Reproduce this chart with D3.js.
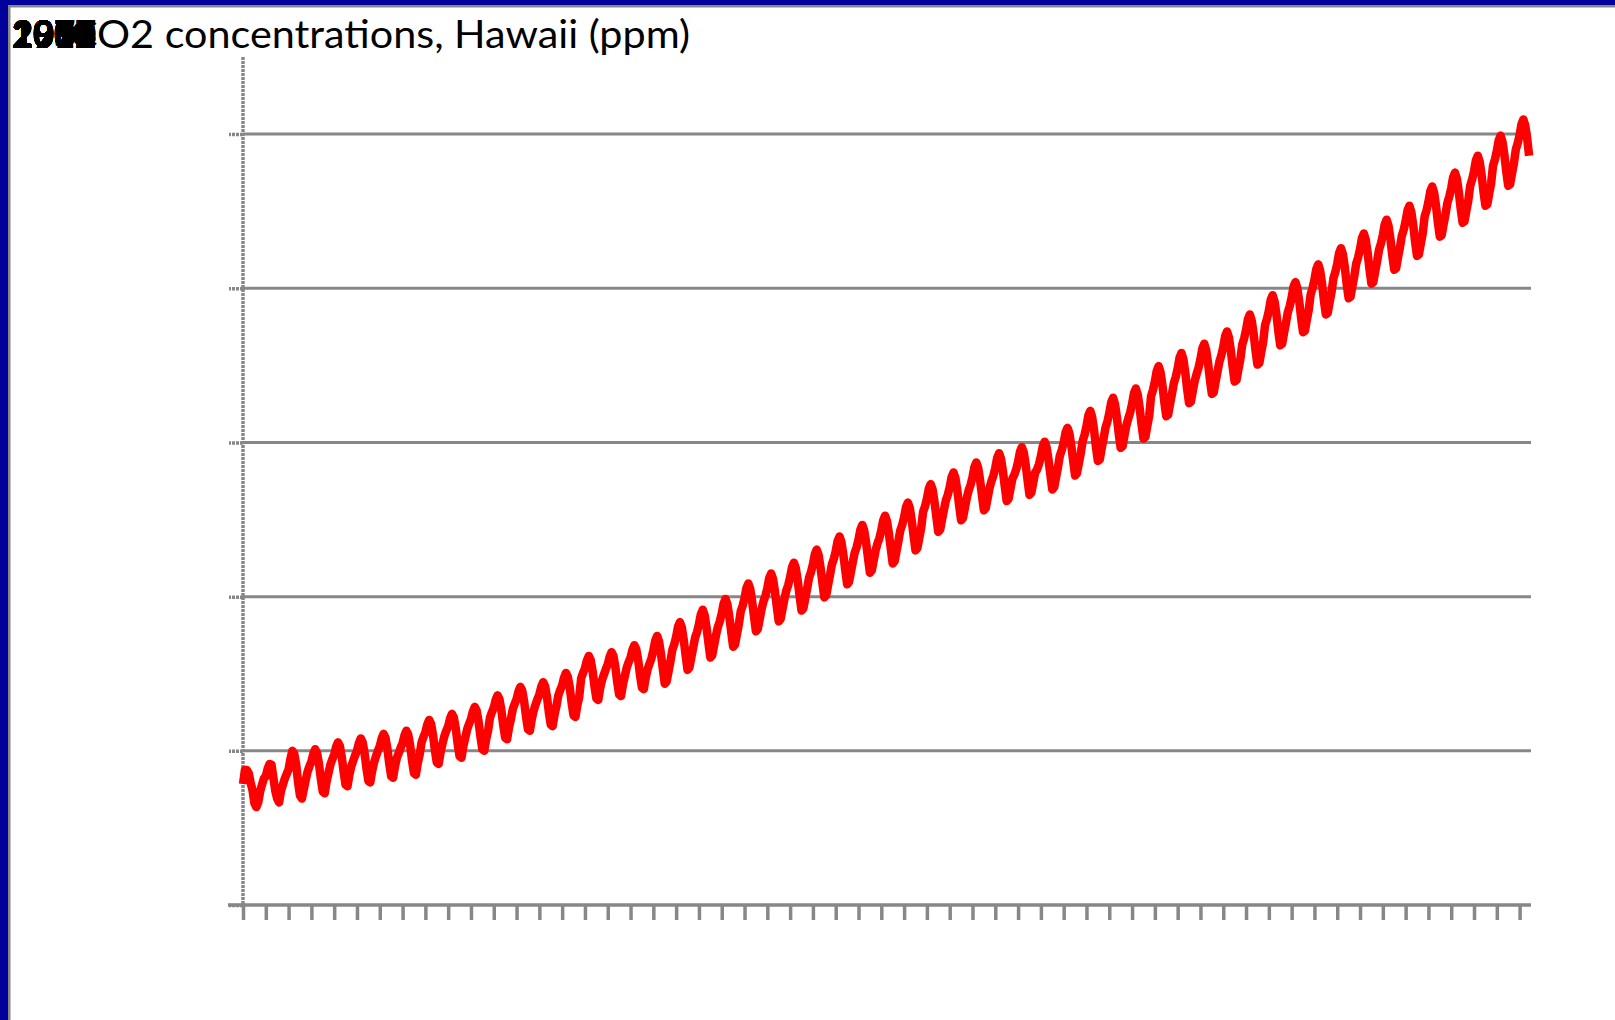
<!DOCTYPE html>
<html><head><meta charset="utf-8">
<script src="https://cdn.jsdelivr.net/npm/d3@7"></script>
<style>html,body{margin:0;padding:0;background:#fff;overflow:hidden}svg{display:block}</style>
</head><body>
<svg id="chart" width="1615" height="1020"></svg>
<script>
const title = "CO2 concentrations, Hawaii (ppm)";
const yearLabels = [1958,1959,1960,1961,1962,1963,1964,1965,1966,1967,1968,1969,1970,1971,1972,1973,1974,1975,1976,1977,1978,1979,1980,1981,1982,1983,1984,1985,1986,1987,1988,1989,1990,1991,1992,1993,1994,1995,1996,1997,1998,1999,2000,2001,2002,2003,2004,2005,2006,2007,2008,2009,2010,2011,2012,2013,2014];
const yTicks = [300,320,340,360,380,400];
// Monthly CO2 (ppm), March 1958 - August 2014
const co2 = [
315.7,317.5,317.5,317.1,315.9,314.9,313.2,312.7,313.3,314.7,
315.6,316.4,316.7,317.7,318.3,318.2,316.5,314.8,313.8,313.3,314.8,315.6,
316.4,317.0,317.6,319.0,320.0,319.6,318.2,315.9,314.2,313.8,315.0,316.2,
317.3,318.0,318.6,319.6,320.2,319.7,318.3,316.3,314.7,314.5,316.0,317.1,
318.2,318.9,319.5,320.5,321.1,320.6,319.2,317.2,315.6,315.4,316.9,318.0,
318.7,319.4,320.0,321.0,321.6,321.1,319.7,317.7,316.1,315.9,317.4,318.5,
319.3,320.0,320.6,321.6,322.2,321.7,320.3,318.3,316.7,316.5,318.0,319.1,
319.7,320.4,321.0,322.0,322.6,322.1,320.7,318.7,317.1,316.9,318.4,319.5,
321.1,321.8,322.4,323.4,324.0,323.5,322.1,320.1,318.5,318.3,319.8,320.9,
321.9,322.6,323.2,324.2,324.8,324.3,322.9,320.9,319.3,319.1,320.6,321.7,
322.8,323.5,324.1,325.1,325.7,325.2,323.8,321.8,320.2,320.0,321.5,322.6,
324.3,325.0,325.6,326.6,327.2,326.7,325.3,323.3,321.7,321.5,323.0,324.1,
325.4,326.1,326.7,327.7,328.3,327.8,326.4,324.4,322.8,322.6,324.1,325.2,
326.0,326.7,327.3,328.3,328.9,328.4,327.0,325.0,323.4,323.2,324.7,325.8,
327.2,327.9,328.5,329.5,330.1,329.6,328.2,326.2,324.6,324.4,325.9,327.0,
329.4,330.1,330.7,331.7,332.3,331.8,330.4,328.4,326.8,326.6,328.1,329.2,
329.9,330.6,331.2,332.2,332.8,332.3,330.9,328.9,327.3,327.1,328.6,329.7,
330.8,331.5,332.1,333.1,333.7,333.2,331.8,329.8,328.2,328.0,329.5,330.6,
331.3,332.0,333.0,334.3,334.9,334.2,332.6,330.6,328.7,329.0,330.3,331.6,
333.1,333.8,334.8,336.1,336.7,336.0,334.4,332.4,330.5,330.8,332.1,333.4,
334.7,335.4,336.4,337.7,338.3,337.6,336.0,334.0,332.1,332.4,333.7,335.0,
336.1,336.8,337.8,339.1,339.7,339.0,337.4,335.4,333.5,333.8,335.1,336.4,
338.1,338.8,339.8,341.1,341.7,341.0,339.4,337.4,335.5,335.8,337.1,338.4,
339.4,340.1,341.1,342.4,343.0,342.3,340.7,338.7,336.8,337.1,338.4,339.7,
340.8,341.5,342.5,343.8,344.4,343.7,342.1,340.1,338.2,338.5,339.8,341.1,
342.5,343.2,344.2,345.5,346.1,345.4,343.8,341.8,339.9,340.2,341.5,342.8,
344.2,344.9,345.9,347.2,347.8,347.1,345.5,343.5,341.6,341.9,343.2,344.5,
345.7,346.4,347.4,348.7,349.3,348.6,347.0,345.0,343.1,343.4,344.7,346.0,
346.9,347.6,348.6,349.9,350.5,349.8,348.2,346.2,344.3,344.6,345.9,347.2,
348.6,349.3,350.3,351.6,352.2,351.5,349.9,347.9,346.0,346.3,347.6,348.9,
351.0,351.7,352.7,354.0,354.6,353.9,352.3,350.3,348.4,348.7,350.0,351.3,
352.5,353.2,354.2,355.5,356.1,355.4,353.8,351.8,349.9,350.2,351.5,352.8,
353.8,354.5,355.5,356.8,357.4,356.7,355.1,353.1,351.2,351.5,352.8,354.1,
355.0,355.7,356.7,358.0,358.6,357.9,356.3,354.3,352.4,352.7,354.0,355.3,
355.8,356.5,357.5,358.8,359.4,358.7,357.1,355.1,353.2,353.5,354.8,356.1,
356.5,357.2,358.2,359.5,360.1,359.4,357.8,355.8,353.9,354.2,355.5,356.8,
358.3,359.0,360.0,361.3,361.9,361.2,359.6,357.6,355.7,356.0,357.3,358.6,
360.2,361.0,362.1,363.5,364.1,363.3,361.6,359.4,357.6,357.8,359.2,360.5,
361.9,362.7,363.8,365.2,365.8,365.0,363.3,361.1,359.3,359.5,360.9,362.2,
363.1,363.9,365.0,366.4,367.0,366.2,364.5,362.3,360.5,360.7,362.1,363.4,
366.0,366.8,367.9,369.3,369.9,369.1,367.4,365.2,363.4,363.6,365.0,366.3,
367.7,368.5,369.6,371.0,371.6,370.8,369.1,366.9,365.1,365.3,366.7,368.0,
368.9,369.7,370.8,372.2,372.8,372.0,370.3,368.1,366.3,366.5,367.9,369.2,
370.5,371.3,372.4,373.8,374.4,373.6,371.9,369.7,367.9,368.1,369.5,370.8,
372.7,373.5,374.6,376.0,376.6,375.8,374.1,371.9,370.1,370.3,371.7,373.0,
375.2,376.0,377.1,378.5,379.1,378.3,376.6,374.4,372.6,372.8,374.2,375.5,
376.9,377.7,378.8,380.2,380.8,380.0,378.3,376.1,374.3,374.5,375.9,377.2,
379.2,380.0,381.1,382.5,383.1,382.3,380.6,378.4,376.6,376.8,378.2,379.5,
381.3,382.1,383.2,384.6,385.2,384.4,382.7,380.5,378.7,378.9,380.3,381.6,
383.2,384.0,385.1,386.5,387.1,386.3,384.6,382.4,380.6,380.8,382.2,383.5,
385.0,385.8,386.9,388.3,388.9,388.1,386.4,384.2,382.4,382.6,384.0,385.3,
386.8,387.6,388.7,390.1,390.7,389.9,388.2,386.0,384.2,384.4,385.8,387.1,
389.3,390.1,391.2,392.6,393.2,392.4,390.7,388.5,386.7,386.9,388.3,389.6,
391.1,391.9,393.0,394.4,395.0,394.2,392.5,390.3,388.5,388.7,390.1,391.4,
393.3,394.1,395.2,396.6,397.2,396.4,394.7,392.5,390.7,390.9,392.3,393.6,
395.9,396.7,397.8,399.2,399.8,399.0,397.3,395.1,393.3,393.5,394.9,396.2,
398.0,398.8,399.9,401.3,401.9,401.1,399.4,397.2
];

const svg = d3.select("#chart");
const gray = "#878787";

// frame
svg.append("rect").attr("x",0).attr("y",0).attr("width",1615).attr("height",1020).attr("fill","#fff");
svg.append("rect").attr("x",0).attr("y",0).attr("width",1615).attr("height",5).attr("fill","#02029a");
svg.append("rect").attr("x",0).attr("y",0).attr("width",8).attr("height",1020).attr("fill","#02029a");
svg.append("rect").attr("x",8).attr("y",5).attr("width",1607).attr("height",2.5).attr("fill",gray);
svg.append("rect").attr("x",8).attr("y",5).attr("width",2.5).attr("height",1015).attr("fill",gray);

const nMonths = co2.length;
const x = d3.scaleLinear().domain([0, nMonths]).range([243, 1531]);
const y = d3.scaleLinear().domain([300, 410]).range([905, 57]);

// gridlines
svg.append("g").selectAll("line").data(yTicks.slice(1)).join("line")
  .attr("x1", x(0)).attr("x2", x(nMonths))
  .attr("y1", d => y(d)).attr("y2", d => y(d))
  .attr("stroke", gray).attr("stroke-width", 3);

// y axis
const yAxis = svg.append("g").attr("transform", `translate(${x(0)},0)`)
  .call(d3.axisLeft(y).tickValues(yTicks).tickSize(14).tickFormat(""));
yAxis.selectAll("path,line").attr("stroke", gray).attr("stroke-width", 3.5)
  .attr("stroke-dasharray", "3,1");
yAxis.select(".domain").attr("d", `M0,${y(410)}V${y(300)}`);

// x axis
const xTickVals = yearLabels.map((d, i) => i * 12);
const xAxis = svg.append("g").attr("transform", `translate(0,${y(300)})`)
  .call(d3.axisBottom(x).tickValues(xTickVals).tickSize(15).tickFormat(""));
xAxis.selectAll("path,line").attr("stroke", gray).attr("stroke-width", 3.5);
xAxis.select(".domain").attr("d", `M${x(0)-15},0H${x(nMonths)}`);

// line
const line = d3.line().x((d, i) => x(i)).y(d => y(d)).curve(d3.curveLinear);
svg.append("path").datum(co2).attr("d", line)
  .attr("fill", "none").attr("stroke", "#ff0000").attr("stroke-width", 8.5)
  .attr("stroke-linejoin", "round").attr("stroke-linecap", "butt");

// title and stacked (misplaced) labels
svg.append("text").attr("x", 70).attr("y", 48).text(title)
  .attr("font-family", "Lato, 'Open Sans', sans-serif").attr("font-size", 39)
  .attr("fill", "#000").attr("textLength", 620).attr("lengthAdjust", "spacingAndGlyphs");
svg.append("g").selectAll("text").data(yearLabels).join("text")
  .attr("x", 12).attr("y", 48).text(d => d)
  .attr("font-family", "Lato, sans-serif").attr("font-size", 39).attr("font-weight", "bold")
  .attr("textLength", 84).attr("lengthAdjust", "spacingAndGlyphs").attr("fill", "#000");
</script>
</body></html>
